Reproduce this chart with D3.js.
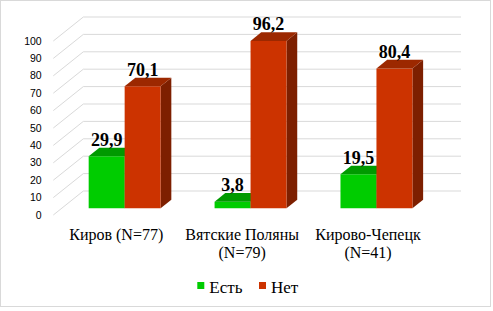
<!DOCTYPE html>
<html><head><meta charset="utf-8">
<script src="https://cdn.jsdelivr.net/npm/d3@7"></script>
</head><body style="margin:0">
<svg id="c" width="493" height="311" style="font-family:'Times New Roman','Liberation Serif',serif"></svg>
<script>
const categories = ["Киров (N=77)", "Вятские Поляны (N=79)", "Кирово-Чепецк (N=41)"];
const categoryLines = [["Киров (N=77)"], ["Вятские Поляны", "(N=79)"], ["Кирово-Чепецк", "(N=41)"]];
const seriesNames = ["Есть", "Нет"];
const yesValues = [29.9, 3.8, 19.5];
const noValues = [70.1, 96.2, 80.4];
const yTicks = [0, 10, 20, 30, 40, 50, 60, 70, 80, 90, 100];

const colors = {
  "Есть": {front: "#00cc00", top: "#009a00", side: "#007a00"},
  "Нет": {front: "#cc3300", top: "#9c2800", side: "#7d1f00"}
};

const svg = d3.select("#c");
svg.append("rect").attr("x", 0.5).attr("y", 0.5).attr("width", 490).attr("height", 306)
  .attr("fill", "#fff").attr("stroke", "#d9d9d9");

const x0 = 53.3, plotW = 377.7;
const depth = [30, -24];
const dFront = 0.28, dBack = 0.637;
const y = d3.scaleLinear().domain([0, 100]).range([215, 41]);
const xBand = d3.scaleBand().domain(categories).range([x0, x0 + plotW]);
const barW = xBand.step() / 3.5;
const xSeries = d3.scaleBand().domain(seriesNames).range([0, 2 * barW]);
const P = (x, v, d) => [x + depth[0] * d, y(v) + depth[1] * d];

const g = svg.append("g");
yTicks.forEach(t => {
  const a = P(x0, t, 0), b = P(x0, t, 1), c = P(x0 + plotW, t, 1);
  g.append("path").attr("d", `M${a}L${b}L${c}`).attr("fill", "none")
    .attr("stroke", "#d9d9d9").attr("stroke-width", 1);
  g.append("text").style("font-family", '"Liberation Sans"').style("font-size", "10.5px")
    .attr("x", 41.7).attr("y", y(t)).attr("dy", "0.35em")
    .attr("text-anchor", "end").attr("fill", "#000").text(t);
});

const data = [];
categories.forEach((c, i) => {
  data.push({cat: c, s: "Есть", v: yesValues[i]});
  data.push({cat: c, s: "Нет", v: noValues[i]});
});

const poly = pts => "M" + pts.map(p => p.join(",")).join("L") + "Z";
const bars = svg.append("g");
data.forEach(d => {
  const xl = xBand(d.cat) + (xBand.step() - 2 * barW) / 2 + xSeries(d.s);
  const xr = xl + barW;
  const col = colors[d.s];
  bars.append("path").attr("d", poly([P(xr, 0, dFront), P(xr, 0, dBack), P(xr, d.v, dBack), P(xr, d.v, dFront)]))
    .attr("fill", col.side);
  bars.append("path").attr("d", poly([P(xl, 0, dFront), P(xr, 0, dFront), P(xr, d.v, dFront), P(xl, d.v, dFront)]))
    .attr("fill", col.front);
  bars.append("path").attr("d", poly([P(xl, d.v, dFront), P(xr, d.v, dFront), P(xr, d.v, dBack), P(xl, d.v, dBack)]))
    .attr("fill", col.top);
});
const fmt = v => d3.format(".1f")(v).replace(".", ",");
data.forEach(d => {
  const xl = xBand(d.cat) + (xBand.step() - 2 * barW) / 2 + xSeries(d.s);
  const p = P(xl + barW / 2, d.v, dFront);
  const pb = P(xl, d.v, dBack);
  bars.append("text").style("font-size", "18px").style("font-weight", "bold")
    .attr("x", p[0]).attr("y", pb[1] - 2).attr("text-anchor", "middle")
    .attr("fill", "#000").text(fmt(d.v));
});

categories.forEach((c, i) => {
  const cx = xBand(c) + xBand.step() / 2;
  const t = svg.append("text").style("font-size", "16px")
    .attr("text-anchor", "middle").attr("fill", "#000");
  categoryLines[i].forEach((ln, j) => {
    t.append("tspan").attr("x", cx).attr("y", 240 + j * 18).text(ln);
  });
});

const legX = [197.3, 259];
seriesNames.forEach((s, i) => {
  svg.append("rect").attr("x", legX[i]).attr("y", 282).attr("width", 7).attr("height", 7).attr("fill", colors[s].front);
  svg.append("text").style("font-size", "17px")
    .attr("x", legX[i] + 12).attr("y", 292.5).attr("fill", "#000").text(s);
});
</script>
</body></html>
